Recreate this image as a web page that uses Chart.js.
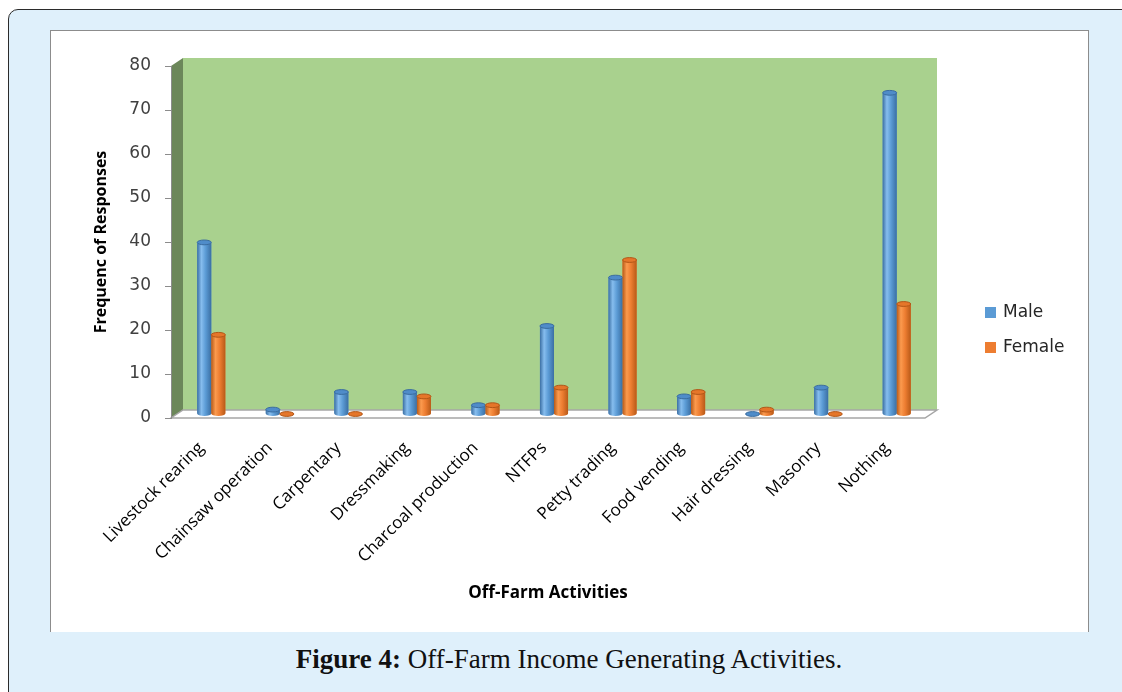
<!DOCTYPE html>
<html>
<head>
<meta charset="utf-8">
<title>Off-Farm Income Generating Activities</title>
<script src="https://cdn.jsdelivr.net/npm/chart.js@4.4.0/dist/chart.umd.min.js"></script>
<style>
  html, body { margin: 0; padding: 0; background: #fff; }
  body { width: 1122px; height: 692px; overflow: hidden; position: relative; }
  .frame {
    position: absolute; left: 8px; top: 9px; width: 1150px; height: 730px;
    background: #dff0fb; border: 1.5px solid #2b2b2b; border-radius: 10px; box-sizing: border-box;
  }
  .chart-box {
    position: absolute; left: 50px; top: 30px; width: 1039px; height: 602px;
    background: #fff; border: 1px solid #8c8c8c; border-bottom: none; box-sizing: border-box;
  }
  #chart-wrap { position: absolute; left: 50px; top: 30px; width: 1038px; height: 602px; }
  .caption {
    position: absolute; left: 50px; width: 1038px; top: 644px; text-align: center;
    font-family: 'Liberation Serif', serif; font-size: 27px; color: #111;
  }
</style>
</head>
<body>
<div class="frame"></div>
<div class="chart-box"></div>
<div id="chart-wrap"><canvas id="activitiesChart" width="1038" height="602"></canvas></div>
<div class="caption"><b>Figure 4:</b> Off-Farm Income Generating Activities.</div>

<script>
const categories = ['Livestock rearing', 'Chainsaw operation', 'Carpentary', 'Dressmaking', 'Charcoal production',
    'NTFPs', 'Petty trading', 'Food vending', 'Hair dressing', 'Masonry', 'Nothing'];
const maleValues = [39, 1, 5, 5, 2, 20, 31, 4, 0, 6, 73];
const femaleValues = [18, 0, 0, 4, 2, 6, 35, 5, 1, 0, 25];
const yTicks = [0, 10, 20, 30, 40, 50, 60, 70, 80];

// depth of the 3-D box (back wall offset from the front plane)
const DEPTH_X = 12;
const DEPTH_Y = 8;

const seriesColors = {
    Male:   { base: '#5b9bd5', light: '#86bdee', dark: '#3b6fa3', cap: '#4f8cc9', capEdge: '#3a6c9f' },
    Female: { base: '#ed7d31', light: '#fb9a4e', dark: '#b85a18', cap: '#e5762a', capEdge: '#b25617' }
};

const boxPlugin = {
    id: 'box3d',
    beforeDraw(chart) {
        const { ctx, chartArea: a } = chart;
        ctx.save();
        // back wall
        ctx.fillStyle = '#a9d18e';
        ctx.fillRect(a.left + DEPTH_X, a.top - DEPTH_Y, a.right - a.left, a.bottom - a.top);
        // left wall
        ctx.fillStyle = '#6c875a';
        ctx.beginPath();
        ctx.moveTo(a.left, a.top);
        ctx.lineTo(a.left + DEPTH_X, a.top - DEPTH_Y);
        ctx.lineTo(a.left + DEPTH_X, a.bottom - DEPTH_Y);
        ctx.lineTo(a.left, a.bottom);
        ctx.closePath();
        ctx.fill();
        // floor
        ctx.fillStyle = '#ffffff';
        ctx.strokeStyle = '#a6a6a6';
        ctx.lineWidth = 1.5;
        ctx.beginPath();
        ctx.moveTo(a.left, a.bottom);
        ctx.lineTo(a.right, a.bottom);
        ctx.lineTo(a.right + DEPTH_X, a.bottom - DEPTH_Y);
        ctx.lineTo(a.left + DEPTH_X, a.bottom - DEPTH_Y);
        ctx.closePath();
        ctx.fill();
        ctx.stroke();
        ctx.restore();
    }
};

function drawCylinder(ctx, bar, c) {
    const rx = bar.width / 2;
    const ry = Math.max(2, bar.width * 0.17);
    const left = bar.x - rx, right = bar.x + rx;
    const top = Math.min(bar.y, bar.base), base = Math.max(bar.y, bar.base);
    if (base - top > 0.5) {
        const g = ctx.createLinearGradient(left, 0, right, 0);
        g.addColorStop(0, c.dark);
        g.addColorStop(0.3, c.light);
        g.addColorStop(0.6, c.base);
        g.addColorStop(1, c.dark);
        ctx.fillStyle = g;
        ctx.beginPath();
        ctx.moveTo(left, top);
        ctx.lineTo(left, base);
        ctx.ellipse(bar.x, base, rx, ry, 0, Math.PI, 0, true);
        ctx.lineTo(right, top);
        ctx.ellipse(bar.x, top, rx, ry, 0, 0, Math.PI, false);
        ctx.closePath();
        ctx.fill();
    }
    ctx.fillStyle = c.cap;
    ctx.strokeStyle = c.capEdge;
    ctx.lineWidth = 1;
    ctx.beginPath();
    ctx.ellipse(bar.x, top, rx, ry, 0, 0, Math.PI * 2);
    ctx.fill();
    ctx.stroke();
}

const cylinderPlugin = {
    id: 'cylinders',
    beforeDatasetsDraw(chart) {
        // bars stand in the middle of the box depth
        chart.ctx.save();
        chart.ctx.translate(DEPTH_X / 2, -DEPTH_Y / 2);
    },
    afterDatasetsDraw(chart) {
        const ctx = chart.ctx;
        chart.data.datasets.forEach((ds, i) => {
            const meta = chart.getDatasetMeta(i);
            meta.data.forEach(bar => drawCylinder(ctx, bar, seriesColors[ds.label]));
        });
        ctx.restore();
    }
};

const legendPlugin = {
    id: 'sideLegend',
    afterDraw(chart) {
        const { ctx, chartArea: a } = chart;
        ctx.save();
        ctx.font = '17px "DejaVu Sans"';
        ctx.textBaseline = 'middle';
        chart.data.datasets.forEach((ds, i) => {
            const x = a.right + 60;
            const y = a.top + 247 + i * 35;
            ctx.fillStyle = seriesColors[ds.label].base;
            ctx.fillRect(x, y - 6, 11, 11);
            ctx.fillStyle = '#262626';
            ctx.fillText(ds.label, x + 18, y);
        });
        ctx.restore();
    }
};

new Chart(document.getElementById('activitiesChart'), {
    type: 'bar',
    data: {
        labels: categories,
        datasets: [
            { label: 'Male', data: maleValues, backgroundColor: seriesColors.Male.base },
            { label: 'Female', data: femaleValues, backgroundColor: seriesColors.Female.base }
        ]
    },
    options: {
        responsive: false,
        animation: false,
        categoryPercentage: 0.41,
        barPercentage: 1.0,
        layout: { padding: { top: 36, right: 163, bottom: 0, left: 0 } },
        plugins: {
            legend: { display: false },
            tooltip: { enabled: false }
        },
        scales: {
            x: {
                grid: { display: false, drawTicks: false },
                border: { display: false },
                ticks: {
                    autoSkip: false,
                    minRotation: 45,
                    maxRotation: 45,
                    padding: 20,
                    labelOffset: -4,
                    color: '#000',
                    font: { family: 'Open Sans', size: 17 }
                },
                title: {
                    display: true,
                    text: 'Off-Farm Activities',
                    color: '#000',
                    font: { family: 'Open Sans', size: 17, weight: 'bold' },
                    padding: { top: 0, bottom: 29 }
                },
                afterFit(scale) { scale.height = 214; }
            },
            y: {
                min: yTicks[0],
                max: yTicks[yTicks.length - 1],
                afterBuildTicks(scale) { scale.ticks = yTicks.map(v => ({ value: v })); },
                grid: { drawOnChartArea: false, tickLength: 6, color: '#8c8c8c' },
                border: { display: true, color: '#8c8c8c', width: 1 },
                ticks: {
                    padding: 14,
                    color: '#404040',
                    font: { family: 'DejaVu Sans', size: 17 }
                },
                title: {
                    display: true,
                    text: 'Frequenc of Responses',
                    color: '#000',
                    font: { family: 'Open Sans', size: 16, weight: 'bold' },
                    padding: { top: 42, bottom: 0 }
                },
                afterFit(scale) { scale.width = 121; }
            }
        }
    },
    plugins: [boxPlugin, cylinderPlugin, legendPlugin]
});
</script>
</body>
</html>
